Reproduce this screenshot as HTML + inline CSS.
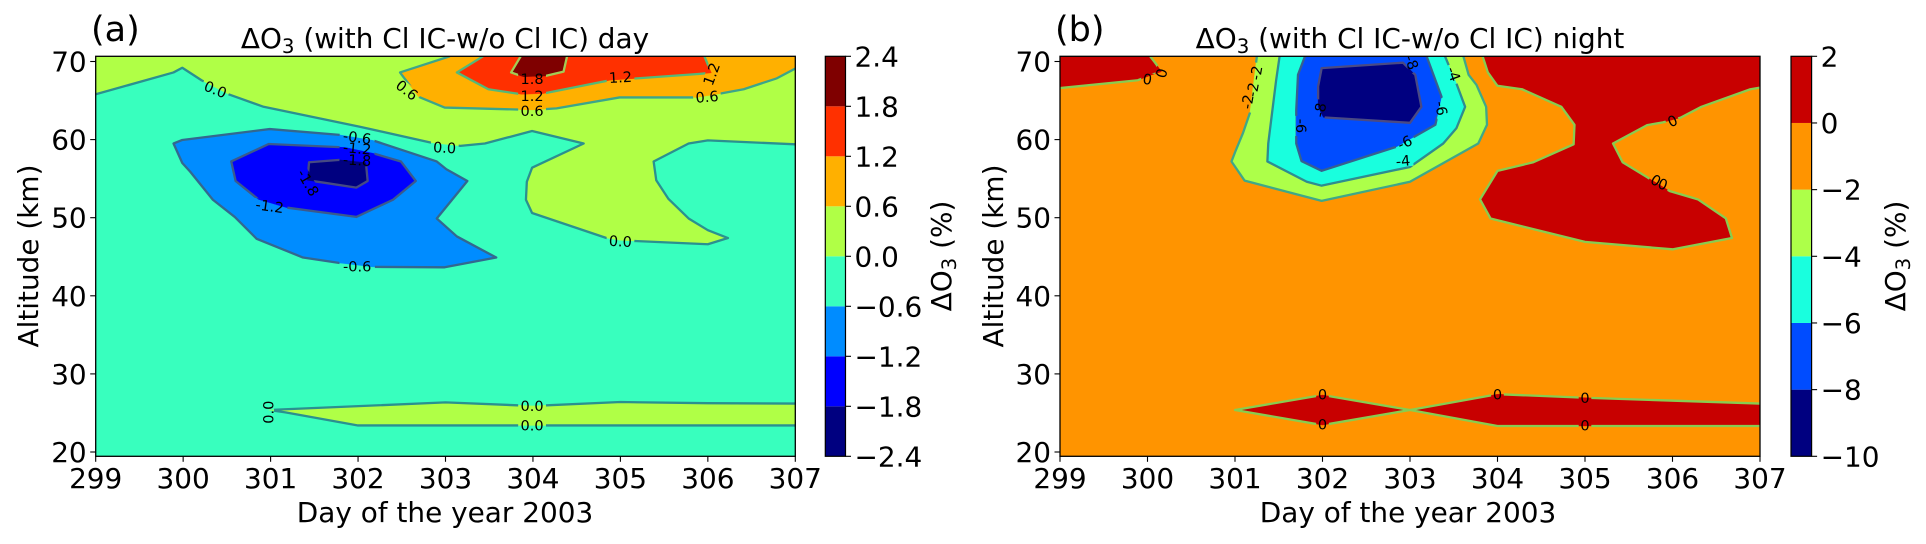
<!DOCTYPE html>
<html lang="en">
<head>
<meta charset="utf-8">
<title>Ozone difference contour charts</title>
<style>
html,body{margin:0;padding:0;background:#fff;width:1926px;height:544px;overflow:hidden}
svg{display:block;font-family:"DejaVu Sans","Liberation Sans",sans-serif;fill:#000}
.big{font-size:27.9px}
.clabel{font-size:14.5px}
</style>
</head>
<body>
<svg id="fig" xmlns="http://www.w3.org/2000/svg" width="1926" height="544" viewBox="0 0 1926 544">
  <g id="panel-a"></g>
  <g id="panel-b"></g>
  <text class="panel-tag" x="91" y="41" font-size="35">(a)</text>
  <text class="panel-tag" x="1055" y="41" font-size="35">(b)</text>
  <text class="big" x="445" y="48" text-anchor="middle">ΔO<tspan font-size="19.8" dy="5">3</tspan><tspan dy="-5"> (with Cl IC-w/o Cl IC) day</tspan></text>
  <text class="big" x="1410" y="48" text-anchor="middle">ΔO<tspan font-size="19.8" dy="5">3</tspan><tspan dy="-5"> (with Cl IC-w/o Cl IC) night</tspan></text>
  <text class="big" x="445" y="522" text-anchor="middle">Day of the year 2003</text>
  <text class="big" x="1408" y="522" text-anchor="middle">Day of the year 2003</text>
  <text class="big" transform="translate(38 256) rotate(-90)" text-anchor="middle">Altitude (km)</text>
  <text class="big" transform="translate(1003 256) rotate(-90)" text-anchor="middle">Altitude (km)</text>
  <text class="big" transform="translate(951 256) rotate(-90)" text-anchor="middle">ΔO<tspan font-size="19.8" dy="5">3</tspan><tspan dy="-5"> (%)</tspan></text>
  <text class="big" transform="translate(1905 256) rotate(-90)" text-anchor="middle">ΔO<tspan font-size="19.8" dy="5">3</tspan><tspan dy="-5"> (%)</tspan></text>
</svg>
<script>
// ---------- shared axes data ----------
const dayTicks = [299, 300, 301, 302, 303, 304, 305, 306, 307];
const altTicks = [20, 30, 40, 50, 60, 70];
const ALT_MIN = 19.45;
const ALT_MAX = 70.67;

// ---------- panel (a): day contours, [day, altitude km] ----------
const aLevels = [-2.4, -1.8, -1.2, -0.6, 0.0, 0.6, 1.2, 1.8, 2.4];
const aTickText = ["\u22122.4", "\u22121.8", "\u22121.2", "\u22120.6", "0.0", "0.6", "1.2", "1.8", "2.4"];
const aBands = ["#000080", "#0000ff", "#008cff", "#38ffbe", "#b0ff46", "#ffb000", "#ff3000", "#7f0000"];

const aZeroUpper = [[299,65.8],[299.89,68.6],[299.99,69.2],[300.21,67.6],[300.52,65.8],[300.92,64.2],[302.02,61.65],[302.84,59.6],[303,59.4],[303.17,59.2],[303.45,59.5],[303.99,61.1],[304.58,59.5],[303.99,56.4],[303.93,54.6],[303.92,52.3],[303.99,50.6],[304.84,47.4],[305,47.1],[306,46.6],[306.23,47.4],[306,48.4],[305.78,49.9],[305.55,52.4],[305.41,54.8],[305.38,57.2],[305.78,59.5],[306,59.9],[307,59.4]];
const aZeroLower = [[307,23.4],[302,23.4],[301.17,25.08],[300.98,25.38],[301.17,25.47],[303,26.35],[304,25.9],[305,26.4],[306,26.25],[307,26.2]];
const aMinus06 = [[299.89,59.5],[299.99,59.95],[300.99,61.35],[301.79,60.6],[302.17,59.9],[302.9,57.2],[303.01,56.2],[303.25,54.7],[302.9,49.9],[303.13,47.6],[303.58,44.9],[302.99,43.65],[302.17,43.7],[301.79,44.2],[301.37,44.9],[300.84,47.3],[300.59,50.1],[300.34,52.3],[300.08,55.9],[299.99,57]];
const aMinus12 = [[300.98,59.44],[301.85,59],[302.17,58.25],[302.49,57.2],[302.66,54.7],[302.4,52.3],[301.98,50.1],[301.18,51.3],[300.86,52.35],[300.6,54.7],[300.55,57.2]];
const aMinus18 = [[301.44,57.1],[301.79,57.4],[302.09,57.05],[302.11,54.7],[301.98,53.85],[301.6,54.5],[301.42,54.8]];
const aPlus06 = [[303.05,70.67],[302.48,68.6],[302.5,68.3],[302.69,65.5],[302.99,64.1],[303.99,63.8],[304.27,64],[304.99,65.4],[305.87,65.4],[306.1,65.8],[306.41,66.45],[306.79,67.85],[307,69.1]];
const aPlus12 = [[303.43,70.67],[303.13,68.6],[303.49,66.45],[303.87,65.8],[304.12,65.9],[304.88,67.6],[305.89,68.4],[306.04,68.55],[305.97,70.4],[305.96,70.67]];
const aPlus18 = [[303.86,70.67],[303.75,68.6],[303.89,68.05],[304.14,68.15],[304.35,68.7],[304.39,70.67]];

const aLabelText = ["0.0","0.6","0.0","-0.6","-1.2","-1.8","-1.8","-1.2","-0.6","1.8","1.2","0.6","1.2","0.6","1.2","0.0","0.0","0.0","0.0"];
const aLabelDay = [300.37,302.56,302.99,301.99,301.99,301.99,301.43,300.99,301.99,303.99,303.99,303.99,305,305.99,306.04,305,303.99,303.99,300.97];
const aLabelAlt = [66.44,66.35,59,60.3,58.9,57.4,54.5,51.5,43.8,67.8,65.65,63.7,68,65.5,68.4,47,25.9,23.45,25.1];
const aLabelAngle = [22,38,3,8,5,3,60,8,0,0,0,0,-3,-5,-70,3,0,0,-90];

// ---------- panel (b): night contours, [day, altitude km] ----------
const bLevels = [-10, -8, -6, -4, -2, 0, 2];
const bTickText = ["\u221210", "\u22128", "\u22126", "\u22124", "\u22122", "0", "2"];
const bBands = ["#000080", "#004cff", "#19ffde", "#adff49", "#ff9400", "#c80000"];

const bZeroCorner = [[299,66.6],[299.89,67.6],[300.05,68.3],[300.16,68.7],[300.09,69.8],[300.03,70.67]];
const bZeroMain = [[303.83,70.67],[303.89,68.6],[303.998,66.9],[304.28,66.45],[304.73,64.2],[304.88,61.9],[304.87,59.4],[304.41,57.1],[304,56],[303.8,52.35],[303.92,49.9],[305,46.9],[306,45.95],[306.68,47.4],[306.61,49.9],[306.29,52.35],[305.97,53.4],[305.7,55.25],[305.43,57.1],[305.32,59.5],[305.71,61.85],[305.89,62.2],[306.09,62.8],[306.33,64.2],[306.89,66.45],[307,66.65]];
const bZeroDiamond = [[301,25.38],[302,27.3],[303,25.38],[302,23.45]];
const bZeroStrip = [[307,23.33],[304,23.33],[303,25.38],[304,27.4],[305,26.95],[307,26.2]];
const bMinus2 = [[301.25,70.67],[301.17,63.4],[301.09,60.8],[301.01,58.65],[300.96,57.2],[301.11,54.75],[301.99,52.15],[303,54.6],[303.78,59.5],[303.88,61.9],[303.87,64.2],[303.76,67],[303.67,68.3],[303.61,70.67]];
const bMinus4 = [[301.51,70.67],[301.47,67.6],[301.38,59.5],[301.37,57.2],[301.82,54.6],[301.99,54.1],[303,56.5],[303.38,59.5],[303.53,61.45],[303.63,64.2],[303.53,67.2],[303.4,70.67]];
const bMinus6 = [[301.8,70.67],[301.72,68.3],[301.7,63.8],[301.7,59.5],[301.76,57.25],[301.99,56],[302.85,59.1],[303.29,61.9],[303.36,65.5],[303.19,70.67]];
const bMinus8 = [[301.99,69.15],[302.92,69.85],[303.06,68.3],[303.13,64.2],[303,62.15],[302.01,62.85],[301.95,64.2],[301.95,66.8]];

const bLabelText = ["0","0","-2","-2","-2","-4","-6","-8","-8","-6","-6","-4","0","0","0","0","0","0","0","0"];
const bLabelDay = [300,300.16,301.24,301.2,301.14,303.5,303.36,303.02,301.97,301.76,302.94,302.92,306,305.81,305.89,302,302,304,305,305];
const bLabelAlt = [67.75,68.5,68.55,66.4,64.85,68.4,64,69.9,63.8,61.75,59.65,57.3,62.4,54.8,54.3,27.4,23.55,27.4,26.95,23.45];
const bLabelAngle = [8,-75,-80,-80,-80,70,80,70,-80,90,-25,-5,-25,30,20,0,0,0,0,0];

// ---------- drawing helpers ----------
const NS = "http://www.w3.org/2000/svg";
const PLOT_TOP = 56.3, PLOT_BOTTOM = 456.3;
const altToY = a => 452 - (a - 20) * 7.81;

function mk(parent, tag, attrs) {
  const el = document.createElementNS(NS, tag);
  for (const k in attrs) el.setAttribute(k, attrs[k]);
  parent.appendChild(el);
  return el;
}
function toPath(points, xf, closed) {
  return points.map((p, i) => (i ? "L" : "M") + xf(p[0]).toFixed(2) + " " + altToY(p[1]).toFixed(2)).join("") + (closed ? "Z" : "");
}

function drawPanel(cfg) {
  const root = document.getElementById(cfg.id);
  const xf = d => cfg.left + (d - 299) * (cfg.right - cfg.left) / 8;
  const w = cfg.right - cfg.left;
  const h = PLOT_BOTTOM - PLOT_TOP;

  const defs = mk(root, "defs", {});
  const clip = mk(defs, "clipPath", { id: cfg.id + "-clip" });
  mk(clip, "rect", { x: cfg.left, y: PLOT_TOP, width: w, height: h });
  const mask = mk(defs, "mask", { id: cfg.id + "-mask", maskUnits: "userSpaceOnUse", x: cfg.left, y: PLOT_TOP, width: w, height: h });
  mk(mask, "rect", { x: cfg.left, y: PLOT_TOP, width: w, height: h, fill: "#fff" });

  // base fill
  const base = mk(root, "rect", { x: cfg.left, y: PLOT_TOP, width: w, height: h, fill: cfg.baseColor });
  
  

  // filled regions
  const fills = mk(root, "g", { "clip-path": "url(#" + cfg.id + "-clip)" });
  
  
  cfg.regions.forEach(r => {
    const pts = r.corners ? r.pts.concat(r.corners) : r.pts;
    const f = mk(fills, "path", { d: toPath(pts, xf, true), fill: r.fill, stroke: r.fill, "stroke-width": 0.4 });
    
    
  });

  // label gaps in the lines
  cfg.labelText.forEach((t, i) => {
    const lw = t.length * 7.6 + 5;
    const x = xf(cfg.labelDay[i]), y = altToY(cfg.labelAlt[i]);
    mk(mask, "rect", { x: x - lw / 2, y: y - 6, width: lw, height: 12, fill: "#000", transform: "rotate(" + cfg.labelAngle[i] + " " + x + " " + y + ")" });
  });

  // contour lines
  const outer = mk(root, "g", { "clip-path": "url(#" + cfg.id + "-clip)" });
  const lines = mk(outer, "g", { mask: "url(#" + cfg.id + "-mask)", fill: "none", "stroke-width": 2.3, "stroke-linejoin": "round" });
  
  
  cfg.regions.forEach(r => {
    const l = mk(lines, "path", { d: toPath(r.pts, xf, r.closed), stroke: r.line });
    
    
  });

  // contour labels
  const labels = mk(root, "g", { "clip-path": "url(#" + cfg.id + "-clip)" });
  
  
  cfg.labelText.forEach((t, i) => {
    const x = xf(cfg.labelDay[i]), y = altToY(cfg.labelAlt[i]);
    const lab = mk(labels, "text", { class: "clabel", x: x, y: y + 5.3, "text-anchor": "middle", transform: "rotate(" + cfg.labelAngle[i] + " " + x + " " + y + ")" });
    lab.textContent = t;
    
    
  });

  // frame
  const frame = mk(root, "rect", { x: cfg.left, y: PLOT_TOP, width: w, height: h, fill: "none", stroke: "#000", "stroke-width": 1.3 });
  
  

  // x ticks
  dayTicks.forEach(d => {
    const x = xf(d);
    const tick = mk(root, "line", { x1: x, x2: x, y1: PLOT_BOTTOM, y2: PLOT_BOTTOM + 5.5, stroke: "#000", "stroke-width": 1.1 });
    
    
    const t = mk(root, "text", { class: "big", x: x, y: 488, "text-anchor": "middle" });
    t.textContent = d;
    
    
  });
  // y ticks
  altTicks.forEach(a => {
    const y = altToY(a);
    const tick = mk(root, "line", { x1: cfg.left - 5.5, x2: cfg.left, y1: y, y2: y, stroke: "#000", "stroke-width": 1.1 });
    
    
    const t = mk(root, "text", { class: "big", x: cfg.left - 9, y: y + 10, "text-anchor": "end" });
    t.textContent = a;
    
    
  });

  // colorbar
  const lv = cfg.levels;
  const cy = v => PLOT_BOTTOM - (v - lv[0]) / (lv[lv.length - 1] - lv[0]) * h;
  cfg.bands.forEach((c, i) => {
    const band = mk(root, "rect", { x: cfg.cbLeft, width: cfg.cbWidth, y: cy(lv[i + 1]), height: cy(lv[i]) - cy(lv[i + 1]), fill: c });
    
    
  });
  const cbFrame = mk(root, "rect", { x: cfg.cbLeft, y: PLOT_TOP, width: cfg.cbWidth, height: h, fill: "none", stroke: "#000", "stroke-width": 1.2 });
  
  
  lv.forEach((v, i) => {
    const y = cy(v), xr = cfg.cbLeft + cfg.cbWidth;
    const tick = mk(root, "line", { x1: xr, x2: xr + 5.5, y1: y, y2: y, stroke: "#000", "stroke-width": 1.1 });
    
    
    const t = mk(root, "text", { class: "big", x: xr + 9, y: y + 10 });
    t.textContent = cfg.tickText[i];
    
    
  });
}

// ---------- panels ----------
const cornersTop = [[307, ALT_MAX], [299, ALT_MAX]];
const cornerTopRight = [[307, ALT_MAX]];
const cornerTopLeft = [[299, ALT_MAX]];

drawPanel({
  id: "panel-a", left: 95.7, right: 795.3, cbLeft: 825.3, cbWidth: 20.2,
  baseColor: aBands[3], levels: aLevels, bands: aBands, tickText: aTickText,
  labelText: aLabelText, labelDay: aLabelDay, labelAlt: aLabelAlt, labelAngle: aLabelAngle,
  regions: [
    { name: "zero-upper", pts: aZeroUpper, corners: cornersTop, closed: false, fill: aBands[4], line: "#2b9090" },
    { name: "zero-lower", pts: aZeroLower, closed: false, fill: aBands[4], line: "#2b9090" },
    { name: "minus-0-6", pts: aMinus06, closed: true, fill: aBands[2], line: "#33688f" },
    { name: "minus-1-2", pts: aMinus12, closed: true, fill: aBands[1], line: "#3b5a8c" },
    { name: "minus-1-8", pts: aMinus18, closed: true, fill: aBands[0], line: "#464a82" },
    { name: "plus-0-6", pts: aPlus06, corners: cornerTopRight, closed: false, fill: aBands[5], line: "#3ca58a" },
    { name: "plus-1-2", pts: aPlus12, closed: false, fill: aBands[6], line: "#55b878" },
    { name: "plus-1-8", pts: aPlus18, closed: false, fill: aBands[7], line: "#a3cc55" }
  ]
});

drawPanel({
  id: "panel-b", left: 1060, right: 1760, cbLeft: 1791, cbWidth: 20.6,
  baseColor: bBands[4], levels: bLevels, bands: bBands, tickText: bTickText,
  labelText: bLabelText, labelDay: bLabelDay, labelAlt: bLabelAlt, labelAngle: bLabelAngle,
  regions: [
    { name: "zero-corner", pts: bZeroCorner, corners: cornerTopLeft, closed: false, fill: bBands[5], line: "#88cc50" },
    { name: "zero-main", pts: bZeroMain, corners: cornerTopRight, closed: false, fill: bBands[5], line: "#88cc50" },
    { name: "zero-diamond", pts: bZeroDiamond, closed: true, fill: bBands[5], line: "#88cc50" },
    { name: "zero-strip", pts: bZeroStrip, closed: false, fill: bBands[5], line: "#88cc50" },
    { name: "minus-2", pts: bMinus2, closed: false, fill: bBands[3], line: "#3fa888" },
    { name: "minus-4", pts: bMinus4, closed: false, fill: bBands[2], line: "#2f8c90" },
    { name: "minus-6", pts: bMinus6, closed: false, fill: bBands[1], line: "#37608f" },
    { name: "minus-8", pts: bMinus8, closed: true, fill: bBands[0], line: "#4a4a84" }
  ]
});
</script>
</body>
</html>
